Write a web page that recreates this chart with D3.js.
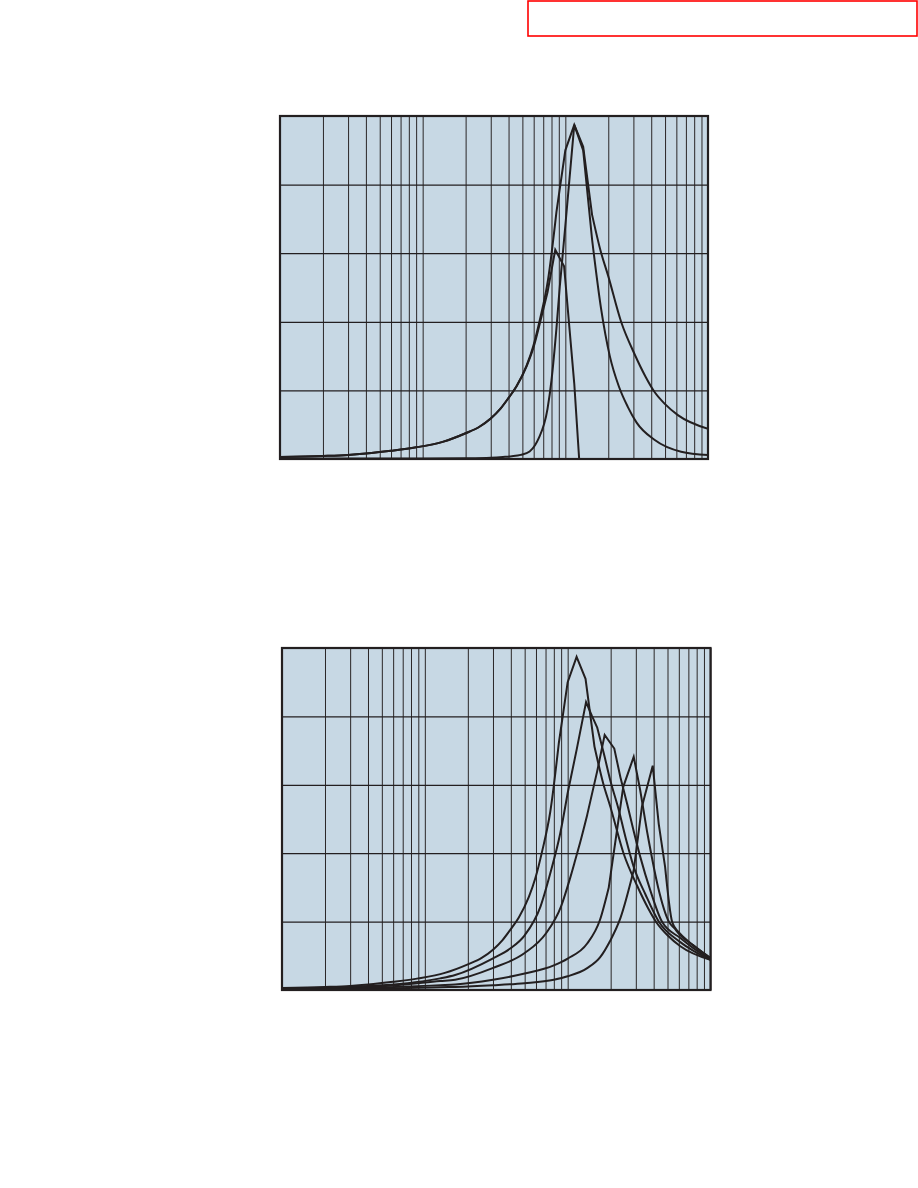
<!DOCTYPE html>
<html>
<head>
<meta charset="utf-8">
<script src="https://cdn.jsdelivr.net/npm/d3@7"></script>
<style>
  html, body { margin: 0; padding: 0; background: #ffffff; }
  svg { display: block; }
</style>
</head>
<body>
<svg id="chart" width="918" height="1188"></svg>
<script>
// ---------- data (frequency, magnitude) ----------
// upper panel
const curveA = [[1,0.3],[2,0.45],[3,0.6],[4,0.8],[6,1.2],[9,1.7],[13.8,2.5],[20,3.75],[25,4.7],[30,5.9],[35,7.3],[40,8.9],[45.5,10.6],[53.5,13.6],[59.5,16.4],[66.3,20.3],[75.6,26.1],[86.6,36],[100,45.0],[115.5,48.7],[133.4,45.5],[154,35.6],[177.4,30.2],[199,26.8],[246,20.0],[307,15.2],[365,12.0],[421,9.8],[500,8.0],[615,6.4],[1000,4.4]];
const curveB = [[1,0.05],[10,0.08],[20,0.12],[30,0.2],[36.5,0.3],[42.2,0.4],[48.7,0.6],[56.2,1.1],[61.3,2.0],[65,3.0],[75,7.3],[80,11.5],[86.6,19],[91.5,25.2],[100,34],[115.5,48.7],[133.4,45.0],[154,32.0],[177.8,22.0],[205,15.0],[237,10.6],[274,7.6],[316,5.3],[421,2.8],[648,1.06],[1000,0.58]];
const curveC = [[1,0.3],[2,0.45],[3,0.6],[4,0.8],[6,1.2],[9,1.7],[13.8,2.5],[20,3.75],[25,4.7],[30,5.9],[35,7.3],[40,8.9],[45.5,10.6],[53.5,13.5],[59.5,16.1],[66.3,19.8],[75,24.3],[85,30.5],[98,28.1],[115.5,11],[125,0]];
// lower panel
const curveP1 = curveA;
const curveP2 = [[1,0.2],[5,0.7],[12.8,1.7],[16.3,2.2],[29.8,4.6],[39.8,6.1],[50,8.0],[64.5,12.2],[75.4,17.0],[88.9,23.0],[100,28.8],[115.5,35.1],[134.5,42.1],[147.6,40.1],[160.8,38.4],[179,34.6],[198.5,30.7],[228,26.3],[253.5,22.4],[290,18.0],[350,14.0],[434,10.0],[615,7.0],[750,5.8],[1000,4.4]];
const curveP3 = [[1,0.15],[5,0.55],[12.8,1.3],[16.3,1.5],[29.8,3.2],[50,5.4],[70.6,8.3],[89.8,12.2],[104.5,16.5],[113,19.0],[122,21.5],[137,25.6],[161,32.0],[181.6,37.3],[212,35.3],[234,31.1],[261,27.2],[290,23.2],[322,19.5],[380,14.5],[457,10.0],[615,7.6],[750,6.2],[1000,4.5]];
const curveP4 = [[1,0.1],[5,0.35],[12.8,0.7],[16.3,0.8],[30,1.5],[50,2.4],[80,3.6],[100,4.6],[137,6.8],[168,10.2],[194,15.0],[245,29.7],[290,34.1],[322,29.2],[358,23.4],[369,21.9],[430,15.0],[511,10.0],[560,9.0],[615,8.0],[750,6.6],[1000,4.6]];
const curveP5 = [[1,0.1],[5,0.2],[12.8,0.4],[16.3,0.45],[30,0.7],[50,1.0],[80,1.5],[100,2.0],[137,3.2],[169,4.8],[198.5,7.2],[234,10.5],[290,17.5],[331,26.8],[394,32.8],[434,24.3],[481,18.0],[538,10.0],[560,9.2],[615,8.2],[750,6.6],[1000,4.7]];

const xDomain = [1, 1000];
const yDomain = [0, 50];
const yGrid = [10, 20, 30, 40];

// ---------- layout ----------
const panels = [
  { id: "p1", left: 280, right: 708, top: 116, bottom: 459, series: [curveA, curveB, curveC] },
  { id: "p2", left: 282, right: 710.5, top: 648, bottom: 990, series: [curveP1, curveP2, curveP3, curveP4, curveP5] }
];

const ink = "#231f20";
const svg = d3.select("#chart");

// red box top right
svg.append("rect")
  .attr("x", 528).attr("y", 1)
  .attr("width", 389).attr("height", 35)
  .attr("fill", "none").attr("stroke", "#ff0000").attr("stroke-width", 1.6);

panels.forEach(p => {
  const x = d3.scaleLog().domain(xDomain).range([p.left, p.right]);
  const y = d3.scaleLinear().domain(yDomain).range([p.bottom, p.top]);
  const w = p.right - p.left, h = p.bottom - p.top;
  const g = svg.append("g");

  g.append("clipPath").attr("id", "clip-" + p.id)
    .append("rect").attr("x", p.left).attr("y", p.top).attr("width", w).attr("height", h);

  g.append("rect")
    .attr("x", p.left).attr("y", p.top).attr("width", w).attr("height", h)
    .attr("fill", "#c7d8e4");

  // vertical grid via axis
  const gx = g.append("g")
    .attr("transform", `translate(0,${p.bottom})`)
    .call(d3.axisBottom(x).tickValues(x.ticks()).tickSize(-h).tickFormat(""));
  gx.select(".domain").remove();
  gx.selectAll("line").attr("stroke", "#2a2627").attr("stroke-width", 1);

  // horizontal grid via axis
  const gy = g.append("g")
    .attr("transform", `translate(${p.left},0)`)
    .call(d3.axisLeft(y).tickValues(yGrid).tickSize(-w).tickFormat(""));
  gy.select(".domain").remove();
  gy.selectAll("line").attr("stroke", ink).attr("stroke-width", 1.2);

  const smooth = d3.line().x(d => x(d[0])).y(d => y(d[1])).curve(d3.curveMonotoneX);
  const sharp = d3.line().x(d => x(d[0])).y(d => y(d[1])).curve(d3.curveLinear);

  // smooth flanks, straight segments around the sampled peak
  const pathFor = data => {
    const k = d3.maxIndex(data, d => d[1]);
    const a = Math.max(0, k - 2), b = Math.min(data.length - 1, k + 2);
    return [smooth(data.slice(0, a + 1)), sharp(data.slice(a, b + 1)), smooth(data.slice(b))]
      .filter(Boolean).join("");
  };

  g.append("g").attr("clip-path", `url(#clip-${p.id})`)
    .selectAll("path").data(p.series).join("path")
    .attr("d", pathFor)
    .attr("fill", "none")
    .attr("stroke", ink)
    .attr("stroke-width", 2)
    .attr("stroke-linejoin", "miter")
    .attr("stroke-linecap", "round");

  g.append("rect")
    .attr("x", p.left).attr("y", p.top).attr("width", w).attr("height", h)
    .attr("fill", "none").attr("stroke", ink).attr("stroke-width", 2.2);
});
</script>
</body>
</html>
